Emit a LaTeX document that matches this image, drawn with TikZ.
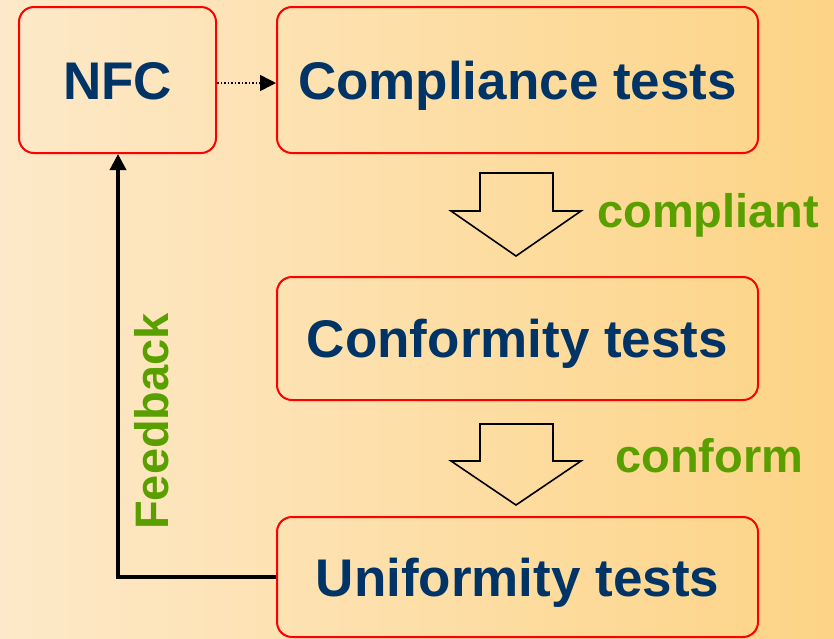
\documentclass[tikz,border=0pt]{standalone}
\usepackage{fontspec}
\setmainfont{Liberation Sans}
\usetikzlibrary{arrows.meta}
\definecolor{bgleft}{RGB}{253,233,201}
\definecolor{bgright}{RGB}{253,212,134}
\definecolor{boxred}{RGB}{255,0,0}
\definecolor{navy}{RGB}{0,51,102}
\definecolor{leaf}{RGB}{90,159,0}
\tikzset{
  stagebox/.style={draw=boxred, line width=2pt, rounded corners=15pt, inner sep=0pt,
    font=\fontsize{53}{60}\selectfont\bfseries, text=navy,
    text height=38pt, text depth=0pt},
  blockarrow/.style={draw=black, line width=1.6pt, line join=miter},
  greenlabel/.style={font=\fontsize{47}{54}\selectfont\bfseries, text=leaf, inner sep=0pt},
}
\begin{document}
\begin{tikzpicture}[x=1pt,y=-1pt]
\shade[left color=bgleft, right color=bgright] (0,0) rectangle (834,638);
\useasboundingbox (0,0) rectangle (834,638);

\node[stagebox, minimum width=197pt, minimum height=146pt] (nfc) at (117.5,80) {NFC};
\node[stagebox, minimum width=481pt, minimum height=146pt] (comp) at (517.5,80) {Compliance tests};
\node[stagebox, minimum width=481pt, minimum height=123pt] (conf) at (517.5,338.5) {Conformity tests};
\node[stagebox, minimum width=481pt, minimum height=120pt] (unif) at (517.5,577) {Uniformity tests};

% dotted arrow
\draw[line width=1.5pt, dash pattern=on 1.5pt off 2pt, -{Triangle[length=16pt,width=16pt]}]
  ([yshift=-3pt]nfc.east) -- ([yshift=-3pt]comp.west);

% block arrows
\draw[blockarrow] (480,173) -- (553,173) -- (553,211) -- (581,211) -- (516,256) -- (451,211) -- (480,211) -- cycle;
\draw[blockarrow] (480,424) -- (553,424) -- (553,461) -- (581,461) -- (516,505) -- (451,461) -- (480,461) -- cycle;

\node[greenlabel, anchor=base west] (lblcompliant) at (597,227) {compliant};
\node[greenlabel, anchor=base west] (lblconform) at (615,472) {conform};

% feedback
\coordinate (fbcorner) at (118,577);
\draw[line width=3.5pt, -{Triangle[length=16pt,width=16pt]}]
  (unif.west) -- (fbcorner) -- (fbcorner |- nfc.south);
\node[greenlabel, rotate=90, anchor=base west] (lblfeedback) at (168,530) {Feedback};
\end{tikzpicture}
\end{document}
